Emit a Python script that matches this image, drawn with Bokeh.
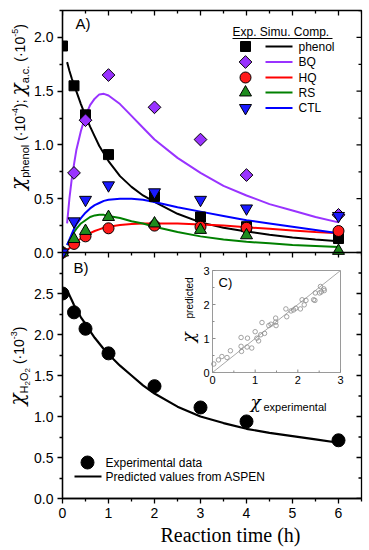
from math import pi
from bokeh.plotting import figure
from bokeh.models import (Range1d, FixedTicker, PrintfTickFormatter, Label, Grid, Span,
                          Title, Div)
from bokeh.layouts import row
from bokeh.core.properties import value
from bokeh.embed import file_html
from bokeh.resources import INLINE

# ---------------- data ----------------
t_exp = [0, 0.25, 0.5, 1, 2, 3, 4, 6]
phenol_exp = [1.92, 1.55, 1.28, 0.91, 0.52, 0.33, 0.24, 0.13]
bq_exp = [0.0, 0.74, 1.23, 1.65, 1.35, 1.05, 0.72, 0.35]
hq_exp = [0.0, 0.08, 0.15, 0.225, 0.25, 0.24, 0.23, 0.20]
rs_exp = [0.0, 0.125, 0.20, 0.33, 0.27, 0.21, 0.16, 0.015]
ctl_exp = [0.0, 0.29, 0.49, 0.625, 0.56, 0.49, 0.41, 0.34]

t_sim = [0.1, 0.15, 0.2, 0.25, 0.3, 0.4, 0.5, 0.6, 0.7, 0.8, 0.9, 1.0,
         1.25, 1.5, 1.75, 2.0, 2.5, 3.0, 3.5, 4.0, 4.5, 5.0, 5.5, 6.0]
phenol_sim = [1.77, 1.69, 1.62, 1.56, 1.50, 1.38, 1.27, 1.17, 1.08, 0.99, 0.92, 0.85,
              0.71, 0.61, 0.53, 0.47, 0.36, 0.28, 0.23, 0.195, 0.165, 0.14, 0.12, 0.105]
bq_sim = [0.27, 0.50, 0.68, 0.82, 0.95, 1.13, 1.27, 1.37, 1.43, 1.47, 1.475, 1.46,
          1.38, 1.27, 1.16, 1.05, 0.88, 0.74, 0.62, 0.53, 0.45, 0.39, 0.33, 0.28]
hq_sim = [0.02, 0.04, 0.06, 0.08, 0.10, 0.13, 0.16, 0.18, 0.20, 0.215, 0.23, 0.24,
          0.255, 0.265, 0.27, 0.27, 0.27, 0.26, 0.25, 0.235, 0.22, 0.205, 0.19, 0.18]
rs_sim = [0.07, 0.11, 0.15, 0.19, 0.22, 0.27, 0.30, 0.33, 0.345, 0.35, 0.35, 0.34,
          0.32, 0.29, 0.27, 0.24, 0.19, 0.15, 0.12, 0.10, 0.085, 0.07, 0.06, 0.05]
ctl_sim = [0.07, 0.12, 0.17, 0.22, 0.26, 0.32, 0.37, 0.41, 0.44, 0.46, 0.48, 0.49,
           0.50, 0.50, 0.49, 0.47, 0.42, 0.38, 0.34, 0.30, 0.27, 0.24, 0.21, 0.18]

h2o2_exp = [2.50, 2.27, 2.07, 1.77, 1.37, 1.11, 0.94, 0.71]
h2o2_sim = [2.53, 2.48, 2.42, 2.36, 2.31, 2.21, 2.13, 2.04, 1.96, 1.89, 1.82, 1.76,
            1.62, 1.50, 1.38, 1.28, 1.12, 1.00, 0.92, 0.85, 0.80, 0.76, 0.72, 0.68]

chi_experimental = [0.03, 0.14, 0.22, 0.34, 0.42, 0.67, 0.67, 0.68, 0.81, 0.82,
                    0.92, 1.00, 1.04, 1.08, 1.13, 1.16, 1.22, 1.32, 1.37, 1.48,
                    1.48, 1.49, 1.72, 1.74, 1.84, 1.90, 1.95, 2.06, 2.10, 2.15,
                    2.19, 2.37, 2.40, 2.41, 2.51, 2.53, 2.55, 2.61, 2.62]
chi_predicted = [0.25, 0.37, 0.47, 0.44, 0.64, 0.77, 1.03, 0.62, 0.75, 1.01,
                 0.72, 1.20, 1.01, 0.93, 1.11, 1.47, 1.15, 1.38, 1.42, 1.48,
                 1.60, 1.38, 1.87, 1.64, 1.81, 1.84, 1.89, 1.87, 2.14, 1.99,
                 2.12, 2.14, 2.12, 2.34, 2.34, 2.53, 2.37, 2.46, 2.41]
parity_line = [0, 3]

x_ticks = [0, 1, 2, 3, 4, 5, 6]
x_minor = [0.5, 1.5, 2.5, 3.5, 4.5, 5.5, 6.5]
ya_ticks = [0, 0.5, 1.0, 1.5, 2.0]
ya_minor = [0.25, 0.75, 1.25, 1.75, 2.25]
yb_ticks = [0, 0.5, 1.0, 1.5, 2.0, 2.5]
yb_minor = [0.25, 0.75, 1.25, 1.75, 2.25, 2.75]
c_ticks = [0, 1, 2, 3]
c_tick_labels = ["0", "1", "2", "3"]
c_minor = [0.5, 1.5, 2.5]

names = ["phenol", "BQ", "HQ", "RS", "CTL"]

# ---------------- styles / geometry ----------------
SANS = "Liberation Sans"
SERIF = "Liberation Serif"
GREEK = "DejaVu Serif"
styles = [
    dict(marker="square", angle=0, size=10, fill="black", line="black"),
    dict(marker="square", angle=pi / 4, size=9, fill="#9933ff", line="#9933ff"),
    dict(marker="circle", angle=0, size=11, fill="#ff1a1a", line="#ff0000"),
    dict(marker="triangle", angle=0, size=12, fill="#1e8c1e", line="#008000"),
    dict(marker="inverted_triangle", angle=0, size=12, fill="#1a1aff", line="#0000ff"),
]

W, H = 369, 550
LBL_W = 30                      # width of the y-label strip (HTML)
F_L, F_R, F_T, F_B = 62, 361, 10, 498   # frame in page px
A_B = 252                       # boundary between panels A and B
XMAX, YA_MAX, YB_MAX = 6.5, 2.25, 3.0
C_L, C_R, C_T, C_B = 212, 340, 270, 372  # inset frame in page px

PX_X = (F_R - F_L) / XMAX
PX_B = (F_B - A_B) / YB_MAX
PX_A = (A_B - F_T) / YA_MAX
Y_TOP = (F_B - F_T) / PX_B
A_START = -(F_B - A_B) / PX_A
PX_CX = (C_R - C_L) / 3.0
PX_CY = (C_B - C_T) / 3.0


def px_x(px):
    return (px - F_L) / PX_X


def px_y(py):
    return (F_B - py) / PX_B


def a_to_b(v):
    return (v - A_START) / (YA_MAX - A_START) * Y_TOP


p = figure(frame_width=F_R - F_L, frame_height=F_B - F_T,
           x_range=Range1d(0, XMAX), y_range=Range1d(0, Y_TOP),
           min_border_left=F_L - LBL_W, min_border_right=W - F_R,
           min_border_top=F_T, min_border_bottom=H - F_B,
           output_backend="svg", toolbar_location=None)
p.extra_y_ranges = {
    "A": Range1d(A_START, YA_MAX),
    "cy": Range1d(-(F_B - C_B) / PX_CY, 3.0 + (C_T - F_T) / PX_CY),
}
p.extra_x_ranges = {
    "cx": Range1d(-(C_L - F_L) / PX_CX, 3.0 + (F_R - C_R) / PX_CX),
}
for r in p.center:
    if isinstance(r, Grid):
        r.visible = False
p.outline_line_color = "black"
p.outline_line_width = 1.3
p.add_layout(Span(location=YB_MAX, dimension="width", line_color="black",
                  line_width=1.3))

# left axis: panel B ticks + panel A ticks (relabelled)
yax = p.yaxis[0]
yax.ticker = FixedTicker(ticks=yb_ticks + [a_to_b(v) for v in ya_ticks],
                         minor_ticks=yb_minor + [a_to_b(v) for v in ya_minor])
yax.formatter = PrintfTickFormatter(format="%.1f")
yax.major_label_overrides = {a_to_b(v): f"{v:.1f}" for v in ya_ticks}
xax = p.xaxis[0]
xax.ticker = FixedTicker(ticks=x_ticks, minor_ticks=x_minor)
xax.formatter = PrintfTickFormatter(format="%d")
for ax in (xax, yax):
    ax.major_tick_in, ax.major_tick_out = 0, 5
    ax.minor_tick_in, ax.minor_tick_out = 0, 3
    for a in ("axis_line", "major_tick_line", "minor_tick_line"):
        setattr(ax, a + "_color", "black")
        setattr(ax, a + "_width", 1.3)
    ax.major_label_text_font = SANS
    ax.major_label_text_font_size = "14px"
    ax.major_label_text_color = "black"
    ax.major_label_standoff = 4
p.add_layout(Title(text="Reaction time (h)", align="left", offset=160 - F_L,
                   text_font=SERIF, text_font_size="20px", text_font_style="normal",
                   text_color="black", standoff=3), "below")

# inward mirror ticks (top + right of both panels, and top of B)
TK = dict(line_color="black", line_width=1.3)
for yr, ytop, pxu, yt, ym in (("A", YA_MAX, PX_A, ya_ticks, ya_minor),
                              ("default", YB_MAX, PX_B, yb_ticks, yb_minor)):
    p.segment(x0=x_ticks, y0=[ytop] * len(x_ticks), x1=x_ticks,
              y1=[ytop - 5 / pxu] * len(x_ticks), y_range_name=yr, **TK)
    p.segment(x0=x_minor, y0=[ytop] * len(x_minor), x1=x_minor,
              y1=[ytop - 3 / pxu] * len(x_minor), y_range_name=yr, **TK)
    p.segment(x0=[XMAX] * len(yt), y0=yt, x1=[XMAX - 5 / PX_X] * len(yt), y1=yt,
              y_range_name=yr, **TK)
    p.segment(x0=[XMAX] * len(ym), y0=ym, x1=[XMAX - 3 / PX_X] * len(ym), y1=ym,
              y_range_name=yr, **TK)

# ---------------- panel A data ----------------
exp_series = [phenol_exp, bq_exp, hq_exp, rs_exp, ctl_exp]
sim_series = [phenol_sim, bq_sim, hq_sim, rs_sim, ctl_sim]
for sim, st in zip(sim_series, styles):
    p.line(t_sim, sim, line_color=st["line"], line_width=2, y_range_name="A")
for ex, st in zip(exp_series, styles):
    p.scatter(t_exp, ex, marker=st["marker"], angle=st["angle"], size=st["size"],
              fill_color=st["fill"], line_color="black", line_width=1, y_range_name="A")

# legend A (marker / simulated line / name)
rows = [46, 61.5, 77, 92, 107.5]
p.segment(x0=[px_x(232)], y0=[px_y(38)], x1=[px_x(332)], y1=[px_y(38)],
          line_color="black", line_width=1)
for st, ry in zip(styles, rows):
    p.scatter([px_x(245)], [px_y(ry)], marker=st["marker"], angle=st["angle"],
              size=st["size"], fill_color=st["fill"], line_color="black", line_width=1)
    p.segment(x0=[px_x(265)], y0=[px_y(ry)], x1=[px_x(292)], y1=[px_y(ry)],
              line_color=st["line"], line_width=2)

# ---------------- panel B data ----------------
p.line(t_sim, h2o2_sim, line_color="black", line_width=2.2)
p.scatter(t_exp, h2o2_exp, marker="circle", size=13, fill_color="black",
          line_color="black")
p.scatter([px_x(87)], [px_y(462)], marker="circle", size=13, fill_color="black",
          line_color="black")
p.segment(x0=[px_x(74)], y0=[px_y(476)], x1=[px_x(101)], y1=[px_y(476)],
          line_color="black", line_width=2.2)

# ---------------- inset C ----------------
CR = dict(x_range_name="cx", y_range_name="cy")
p.quad(left=[0], right=[3], bottom=[0], top=[3], fill_color="white",
       line_color="#9a9a9a", line_width=1, **CR)
p.line(parity_line, parity_line, line_color="#a8a8a8", line_width=1, **CR)
p.scatter(chi_experimental, chi_predicted, marker="circle", size=4.5,
          fill_color=None, line_color="#8c8c8c", line_width=0.8, **CR)
GT = dict(line_color="#8c8c8c", line_width=1, **CR)
p.segment(x0=c_ticks, y0=[0] * 4, x1=c_ticks, y1=[3 / PX_CY] * 4, **GT)
p.segment(x0=c_minor, y0=[0] * 3, x1=c_minor, y1=[2 / PX_CY] * 3, **GT)
p.segment(x0=[0] * 4, y0=c_ticks, x1=[3 / PX_CX] * 4, y1=c_ticks, **GT)
p.segment(x0=[0] * 3, y0=c_minor, x1=[2 / PX_CX] * 3, y1=c_minor, **GT)
p.text(x=c_ticks, y=[0] * 4, text=c_tick_labels, y_offset=3, text_align="center",
       text_baseline="top", text_font=value(SANS), text_font_size="11px",
       text_color="black", **CR)
p.text(x=[0] * 4, y=c_ticks, text=c_tick_labels, x_offset=-3, text_align="right",
       text_baseline="middle", text_font=value(SANS), text_font_size="11px",
       text_color="black", **CR)


# ---------------- texts inside the frame ----------------
def txt(x, y, text, size, font=SANS, align="left", baseline="middle", angle=0.0,
        style="normal"):
    p.add_layout(Label(x=px_x(x), y=px_y(y), text=text, text_font=font,
                       text_font_size=f"{size}px", text_align=align,
                       text_font_style=style, text_baseline=baseline, angle=angle,
                       text_color="black"))


txt(232, 31, "Exp. Simu. Comp.", 12)
for name, ry in zip(names, rows):
    txt(298, ry, name, 12)
txt(75, 23, "A)", 15)
txt(105, 462, "Experimental data", 12)
txt(105, 476, "Predicted values from ASPEN", 12)
txt(73, 267, "B)", 15)
txt(218, 282, "C)", 13)
txt(250, 401, "χ", 17, font=GREEK, baseline="alphabetic", style="italic")
txt(263, 406, "experimental", 11, baseline="alphabetic")
txt(187, 342, "χ", 17, font=GREEK, baseline="alphabetic", angle=pi / 2,
    style="italic")
txt(189, 318, "predicted", 10, baseline="alphabetic", angle=pi / 2)

# ---------------- y-axis titles (HTML, with sub/superscripts) ----------------
CHI = ("<span style=\"font-family:'DejaVu Serif';font-style:italic;"
       "font-size:20px;\">χ</span>")


def sub(t, size=11, shift=-4):
    return f'<span style="font-size:{size}px;vertical-align:{shift}px;">{t}</span>'


def sup(t, size=9, shift=7):
    return f'<span style="font-size:{size}px;vertical-align:{shift}px;">{t}</span>'


def vlabel(cx, cy, inner):
    return ('<div style="position:absolute;left:%dpx;top:%dpx;'
            'transform:translate(-50%%,-50%%) rotate(-90deg);white-space:nowrap;'
            "font-family:'Liberation Sans';font-size:14px;line-height:1;color:black;\">"
            '%s</div>' % (cx, cy, inner))


label_A = (CHI + sub("phenol") + " (·10" + sup("-4") + "); " + CHI + sub("a.c.")
           + " (·10" + sup("-5") + ")")
label_B = (CHI + sub("H" + sub("2", 8, -2) + "O" + sub("2", 8, -2)) + " (·10"
           + sup("-3") + ")")
html = ('<div style="position:relative;width:%dpx;height:%dpx;">' % (LBL_W, H)
        + vlabel(19, 107, label_A) + vlabel(19, 366, label_B) + '</div>')
div = Div(text=html, width=LBL_W, height=H, margin=0)

layout = row(div, p, spacing=0)
open("out.html", "w").write(file_html(layout, INLINE))
